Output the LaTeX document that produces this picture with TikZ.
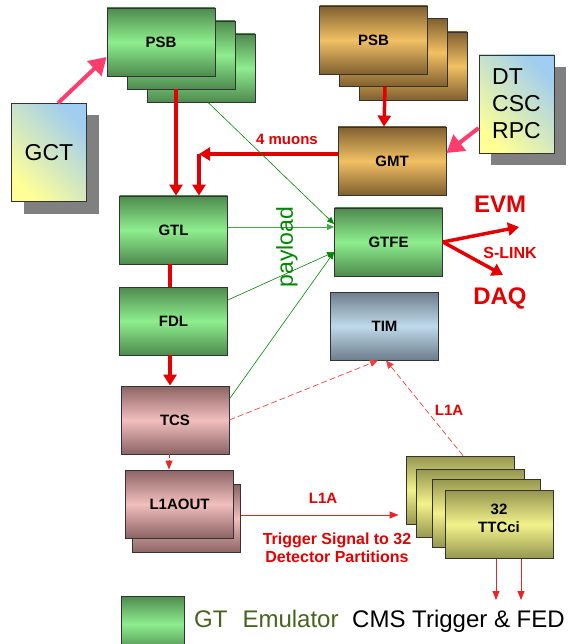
\documentclass[tikz,border=0pt]{standalone}
\usepackage{fontspec}
\setmainfont{Liberation Sans}
\usetikzlibrary{arrows.meta, shadows}

\definecolor{gDark}{RGB}{78,138,78}
\definecolor{gLight}{RGB}{142,238,142}
\definecolor{bDark}{RGB}{128,96,48}
\definecolor{bLight}{RGB}{242,192,100}
\definecolor{pDark}{RGB}{140,100,100}
\definecolor{pLight}{RGB}{242,190,190}
\definecolor{tDark}{RGB}{110,125,140}
\definecolor{tLight}{RGB}{190,218,236}
\definecolor{yDark}{RGB}{150,150,80}
\definecolor{yLight}{RGB}{242,242,140}
\definecolor{noteTop}{RGB}{160,205,240}
\definecolor{noteBot}{RGB}{255,255,150}
\definecolor{trigRed}{RGB}{228,0,0}
\definecolor{feedPink}{RGB}{255,60,110}
\definecolor{linkGreen}{RGB}{0,135,0}
\definecolor{payGreen}{RGB}{70,165,70}
\definecolor{legGreen}{RGB}{70,100,30}

\begin{document}
\begin{tikzpicture}[
  x=1pt, y=-1pt,
  box/.style={rectangle, draw=black!80, line width=0.8pt,
              minimum width=108pt, minimum height=68pt, inner sep=0pt,
              font=\fontsize{15}{18}\selectfont\bfseries, align=center},
  gbox/.style={box, top color=gDark, bottom color=gDark, middle color=gLight},
  bbox/.style={box, top color=bDark, bottom color=bDark, middle color=bLight},
  pbox/.style={box, top color=pDark, bottom color=pDark, middle color=pLight},
  tbox/.style={box, top color=tDark, bottom color=tDark, middle color=tLight},
  ybox/.style={box, top color=yDark, bottom color=yDark, middle color=yLight},
  note/.style={rectangle, draw=black!80, line width=0.8pt, inner sep=0pt,
               minimum width=75pt, minimum height=98pt,
               top color=noteTop, bottom color=noteBot, shading angle=-45,
               drop shadow={shadow xshift=12pt, shadow yshift=-12pt, fill=black!50, opacity=1},
               font=\fontsize{23}{27}\selectfont, align=left},
  redlbl/.style={text=trigRed, font=\fontsize{15}{18}\selectfont\bfseries, align=center},
  arrow/.style={-{Triangle[width=13pt,length=11pt]}, line width=3.5pt, trigRed},
  wire/.style={line width=3.5pt, trigRed},
  feed/.style={-{Triangle[width=20pt,length=17pt]}, line width=4pt, feedPink},
  link/.style={-{Triangle[width=6pt,length=7pt]}, line width=0.6pt, linkGreen},
  l1aline/.style={-{Triangle[width=7pt,length=9pt]}, line width=0.8pt, trigRed!85},
  dline/.style={-{Triangle[width=7pt,length=8pt]}, line width=0.7pt, trigRed!75,
                dash pattern=on 6pt off 3pt}
]
\useasboundingbox (0,0) rectangle (571,644);

% GT boards
\node[gbox] (psbGc)   at (201,68)    {};
\node[gbox] (psbGb)   at (181,55)    {};
\node[gbox] (psbG)    at (161,42)    {PSB};
\node[note] (gct)     at (49,152.5)  {GCT};
\node[gbox] (gtl)     at (173.5,230) {GTL};
\node[gbox] (fdl)     at (173.5,321) {FDL};
\node[pbox] (tcs)     at (175,420)   {TCS};
\node[pbox] (l1aoutB) at (186.5,518.5) {};
\node[pbox] (l1aout)  at (179.5,504) {L1AOUT};
\node[gbox] (gtfe)    at (388.5,242) {GTFE};
\node[tbox] (tim)     at (384.5,326) {TIM};

% muon side
\node[bbox] (psbMc) at (413,66)    {};
\node[bbox] (psbMb) at (393,52.5)  {};
\node[bbox] (psbM)  at (373.5,40)  {PSB};
\node[bbox] (gmt)   at (392,161)   {GMT};
\node[note] (dt)    at (516.5,104) {DT\\CSC\\RPC};

% TTCci crates
\node[ybox] (ttc1) at (460,490)     {};
\node[ybox] (ttc2) at (470.5,503.5) {};
\node[ybox] (ttc3) at (486.5,513)   {};
\node[ybox] (ttc4) at (499,524.5)   {};
\node[font=\fontsize{15}{18}\selectfont\bfseries, align=center] (ttcTxt) at (499,518) {32\\TTCci};

\coordinate (mu)   at (199,154);
\coordinate (evmT) at (519,227);
\coordinate (daqT) at (503,275);
\coordinate (fedA) at (496,600);
\coordinate (fedB) at (521,600);

% inputs
\draw[feed] ([xshift=9pt]gct.north) -- ([yshift=-15pt]psbG.west);
\draw[feed] ([yshift=-24pt]dt.west) -- ([yshift=8pt]gmt.east);
\draw[arrow] ([xshift=-5pt]psbGb.south) -- ([xshift=2.5pt]gtl.north);
\draw[arrow] ([xshift=-8pt]psbMb.south) -- ([xshift=-8pt]gmt.north);
\draw[arrow] ([yshift=7pt]gmt.west) -- (mu);
\draw[arrow] (mu) -- (mu |- gtl.north);
\node[redlbl] (muLbl) at (287,139) {4 muons};

% GT chain
\draw[wire]  ([xshift=-3.5pt]gtl.south) -- ([xshift=-3.5pt]fdl.north);
\draw[arrow] ([xshift=-3.5pt]fdl.south) -- ([xshift=-5pt]tcs.north);
\draw[l1aline, dash pattern=on 4pt off 2pt] ([xshift=-6pt]tcs.south) -- ([xshift=-10.5pt]l1aout.north);

% payload to GTFE
\draw[link] ([xshift=7pt]psbGc.south) -- ([yshift=18pt]gtfe.west);
\draw[link, line width=0.9pt, payGreen] ([yshift=3pt]gtl.east) -- ([yshift=15pt]gtfe.west);
\draw[link] ([yshift=21pt]fdl.east) -- ([yshift=-10pt]gtfe.west);
\draw[link] ([yshift=21pt]tcs.east) -- ([yshift=-10pt]gtfe.west);
\node[rotate=90, text=linkGreen, font=\fontsize{23}{27}\selectfont] (payLbl) at (287,247) {payload};

% readout
\draw[arrow] (gtfe.east) -- (evmT);
\draw[arrow] (gtfe.east) -- (daqT);
\node[text=trigRed, font=\fontsize{24}{28}\selectfont\bfseries] (evm) at (500,204) {EVM};
\node[text=trigRed, font=\fontsize{24}{28}\selectfont\bfseries] (daq) at (500,298) {DAQ};
\node[text=trigRed, font=\fontsize{16}{18}\selectfont\bfseries] (slink) at (510,253) {S-LINK};

% L1A distribution
\draw[dline] (tcs.east) -- ([xshift=-6.5pt]tim.south);
\draw[dline] ([xshift=3pt]ttc1.north) -- ([xshift=1.5pt]tim.south);
\node[redlbl] (l1aUp) at (449,410) {L1A};
\draw[l1aline] ([yshift=3.5pt]l1aoutB.east) -- ([xshift=-7pt,yshift=-25pt]ttc1.west);
\node[redlbl] (l1aLbl) at (323,498) {L1A};
\node[redlbl, font=\fontsize{16}{18}\selectfont\bfseries] (trigLbl) at (337,548)
  {Trigger Signal to 32\\Detector Partitions};
\draw[l1aline] (ttc4.south -| fedA) -- (fedA);
\draw[l1aline] (ttc4.south -| fedB) -- (fedB);

% legend
\node[gbox, minimum width=63pt, minimum height=56pt] (legBox) at (152.5,624) {};
\node[anchor=base west, inner sep=0pt, font=\fontsize{24}{28}\selectfont] (legTxt) at (194,627)
  {\textcolor{legGreen}{GT\hspace{15pt}Emulator}\hspace{7pt} CMS Trigger \& FED};
\end{tikzpicture}
\end{document}
